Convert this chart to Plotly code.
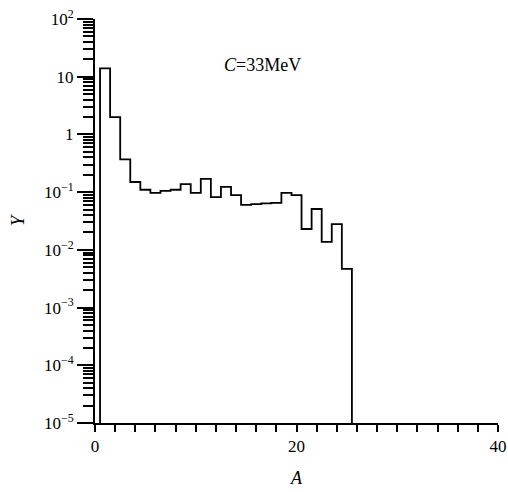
import plotly.graph_objects as go

# Data
A = list(range(1, 26))
Y = [14, 2.0, 0.37, 0.15, 0.11, 0.097, 0.105, 0.11, 0.138, 0.097, 0.17, 0.082, 0.123,
     0.089, 0.06, 0.062, 0.064, 0.065, 0.097, 0.089, 0.023, 0.051, 0.0137, 0.028, 0.0047]
Y_FLOOR = 1e-5

y_major = [1e2, 1e1, 1, 1e-1, 1e-2, 1e-3, 1e-4, 1e-5]
y_major_text = ["10<sup>2</sup>", "10", "1", "10<sup>−1</sup>", "10<sup>−2</sup>",
                "10<sup>−3</sup>", "10<sup>−4</sup>", "10<sup>−5</sup>"]
x_major = [0, 20, 40]
x_major_text = ["0", "20", "40"]
x_minor = [t for t in range(0, 41, 2) if t not in x_major]

xs = [A[0] - 0.5] + [a - 0.5 for a in A] + [A[-1] + 0.5]
ys = [Y_FLOOR] + Y + [Y_FLOOR]

y_minor = [m * 10.0 ** e for e in range(-5, 2) for m in range(2, 10)]

fig = go.Figure()
fig.add_trace(go.Scatter(x=xs, y=ys, mode="lines", line=dict(shape="hv", color="black", width=1.8),
                         showlegend=False, hoverinfo="skip"))

serif = "Liberation Serif"
fig.update_layout(
    width=508, height=492,
    margin=dict(l=95, r=10, t=19, b=69, autoexpand=False),
    paper_bgcolor="white", plot_bgcolor="white",
    font=dict(family=serif, size=17, color="black"),
    xaxis=dict(range=[0, 40], showgrid=False, zeroline=False, automargin=False,
               showline=True, linecolor="black", linewidth=2,
               ticks="outside", ticklen=7, tickwidth=1.5, tickcolor="black",
               tickvals=x_major, ticktext=x_major_text,
               ticklabeloverflow="allow",
               minor=dict(ticks="outside", ticklen=7, tickwidth=1.5, tickcolor="black",
                          tickvals=x_minor, showgrid=False),
               title=dict(text="<i>A</i>", font=dict(family=serif, size=18), standoff=16)),
    yaxis=dict(type="log", range=[-5, 2], showgrid=False, zeroline=False, automargin=False,
               showline=True, linecolor="black", linewidth=2,
               ticks="outside", ticklen=16, tickwidth=1.5, tickcolor="black",
               tickvals=y_major, ticktext=y_major_text,
               ticklabeloverflow="allow",
               minor=dict(ticks="outside", ticklen=10, tickwidth=1.5, tickcolor="black",
                          tickvals=y_minor, showgrid=False),
               title=dict(text="<i>Y</i>", font=dict(family=serif, size=19), standoff=14)),
)
fig.add_annotation(x=16.6, y=1.2, xref="x", yref="y", text="<i>C</i>=33MeV",
                   showarrow=False, xanchor="center",
                   font=dict(family=serif, size=18, color="black"))
fig.write_html("out.html", config={"displayModeBar": False},
               post_script="document.body.style.margin='0';")
